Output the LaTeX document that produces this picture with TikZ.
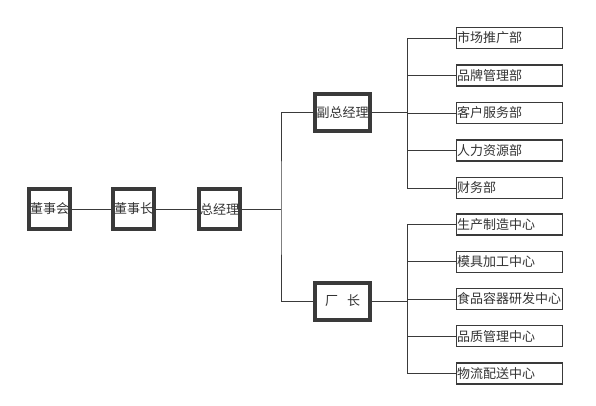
\documentclass[tikz,border=0pt]{standalone}
\usepackage{fontspec}
\newfontfamily\cjk{Noto Sans CJK SC}
\usetikzlibrary{positioning}
\definecolor{boxgray}{HTML}{3A3A3A}
\definecolor{txtgray}{HTML}{333333}

\begin{document}
\begin{tikzpicture}[
  x=1pt, y=-1pt,
  font=\cjk\fontsize{13}{15}\selectfont, text=txtgray,
  lead/.style={draw=boxgray, line width=4pt, fill=white, inner sep=0pt, minimum width=41pt, minimum height=40pt},
  vice/.style={lead, minimum width=55pt, minimum height=37pt},
  dept/.style={draw=boxgray, line width=1.4pt, fill=white, inner xsep=0.5pt, inner ysep=0pt, text width=105pt, align=left, minimum height=21pt},
  link/.style={draw=boxgray, line width=0.8pt},
  node distance=37.5pt, on grid
]
\useasboundingbox (0,0) rectangle (596,405);
% board and general manager
\node[lead] (dsh) at (49.5,209) {董事会};
\node[lead, right=84pt of dsh] (dsz) {董事长};
\node[lead, right=86pt of dsz] (zjl) {总经理};
\node[vice] (fzjl) at (342.5,112.5) {副总经理};
\node[vice] (cz) at (342.5,301) {厂\hspace{9pt}长};
% departments
\node[dept] (sc) at (509.5,38) {市场推广部};
\node[dept, below=of sc] (pp) {品牌管理部};
\node[dept, below=of pp] (kh) {客户服务部};
\node[dept, below=of kh] (rl) {人力资源部};
\node[dept, below=of rl] (cw) {财务部};
% centres
\node[dept] (sz) at (509.5,224.5) {生产制造中心};
\node[dept, below=37.2pt of sz] (mj) {模具加工中心};
\node[dept, below=37.2pt of mj] (yf) {食品容器研发中心};
\node[dept, below=37.2pt of yf] (pz) {品质管理中心};
\node[dept, below=37.2pt of pz] (wl) {物流配送中心};
% links
\coordinate (bus) at (281,209);
\draw[link] (dsh) -- (dsz);
\draw[link] (dsz) -- (zjl);
\draw[link] (zjl) -- (bus);
\draw[link] (fzjl.west) -| (bus) |- (cz.west);
\foreach \d in {sc,pp,kh,rl,cw}
  \draw[link] (fzjl.east) -- ++(35,0) |- (\d.west);
\foreach \d in {sz,mj,yf,pz,wl}
  \draw[link] (cz.east) -- ++(35,0) |- (\d.west);
\end{tikzpicture}
\end{document}
